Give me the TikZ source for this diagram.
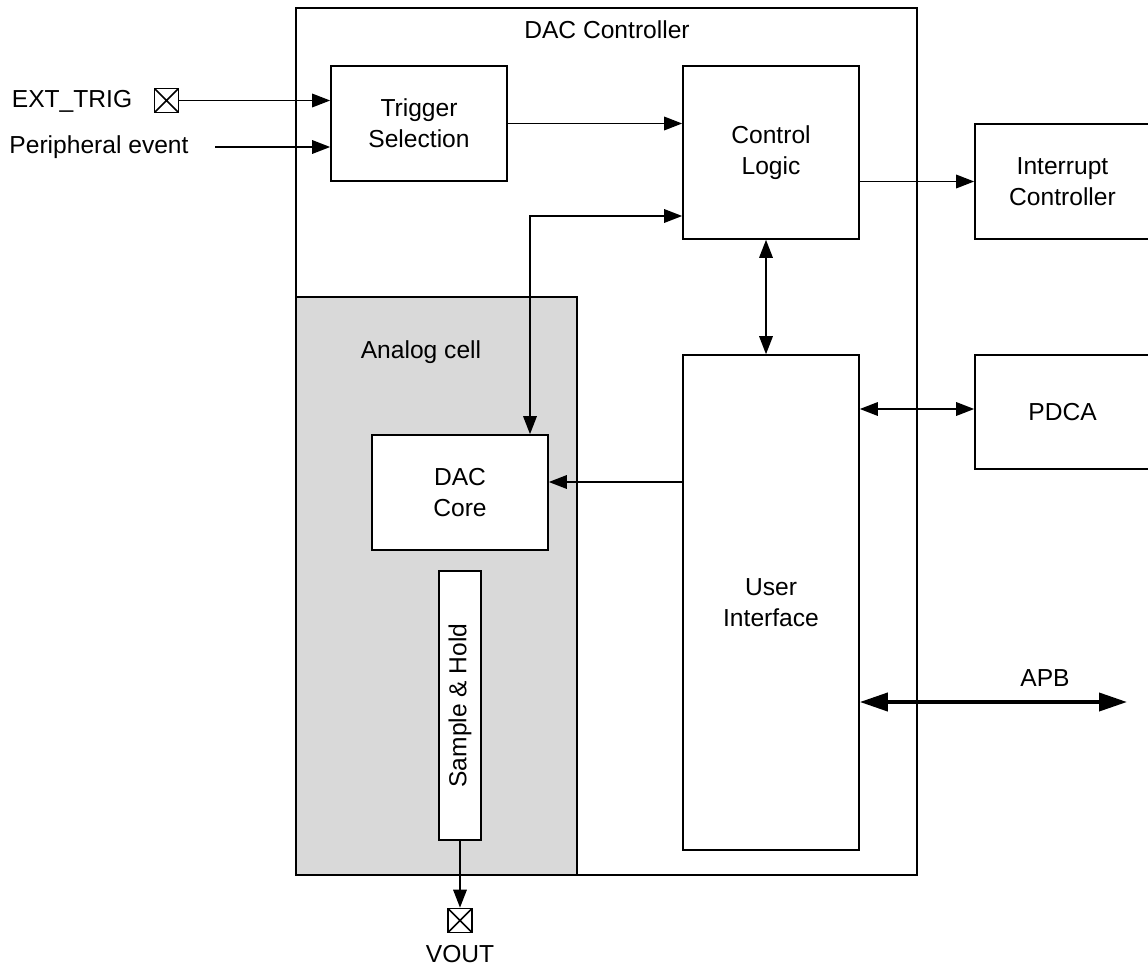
\documentclass[tikz,border=0pt]{standalone}
\usepackage{fontspec}
\setmainfont{Liberation Sans}
\usetikzlibrary{arrows.meta}
\begin{document}
\begin{tikzpicture}[x=0.02cm, y=-0.02cm,
    font=\fontsize{14}{17.6}\selectfont, line width=0.95pt,
    blk/.style={draw, align=center, inner sep=0pt},
    pin/.style={draw, minimum size=0.48cm, inner sep=0pt,
        path picture={\draw (path picture bounding box.north west) -- (path picture bounding box.south east)
            (path picture bounding box.north east) -- (path picture bounding box.south west);}},
    sig/.style={-{Triangle[length=0.36cm, width=0.27cm]}},
    bsig/.style={{Triangle[length=0.36cm, width=0.27cm]}-{Triangle[length=0.36cm, width=0.27cm]}},
    bus/.style={line width=2.2pt, {Triangle[length=0.56cm, width=0.36cm]}-{Triangle[length=0.56cm, width=0.36cm]}}]
    \useasboundingbox (0,0) rectangle (1148,966);

    % DAC controller
    \node[blk, minimum width=12.42cm, minimum height=17.34cm] (ctrl) at (606.5,441.5) {};
    \node (ctrllbl) at (607,30) {DAC Controller};

    % analog cell
    \node[blk, fill=black!15, minimum width=5.62cm, minimum height=11.56cm] (analog) at (436.5,586) {};
    \node (analoglbl) at (421,352) {Analog cell};

    % blocks
    \node[blk, minimum width=3.52cm, minimum height=2.3cm] (trig) at (419,123.5) {Trigger\\Selection};
    \node[blk, minimum width=3.52cm, minimum height=3.46cm] (logic) at (771,152.5) {Control\\Logic};
    \node[blk, minimum width=3.5cm, minimum height=2.3cm] (irq) at (1062.5,181.5) {Interrupt\\Controller};
    \node[blk, minimum width=3.5cm, minimum height=2.28cm] (pdca) at (1062.5,412) {PDCA};
    \node[blk, minimum width=3.52cm, minimum height=9.9cm] (ui) at (771,602.5) {User\\Interface};
    \node[blk, fill=white, minimum width=3.52cm, minimum height=2.3cm] (core) at (460,492.5) {DAC\\Core};
    \node[blk, fill=white, rotate=90, minimum width=5.38cm, minimum height=0.84cm] (sh) at (460,705.5) {Sample \& Hold};

    % pins
    \node (exttxt) at (72,101) {EXT\_TRIG};
    \node[pin] (extpin) at (166.5,100.5) {};
    \node (pevtxt) at (99,147) {Peripheral event};
    \coordinate (pevend) at (215,147);
    \node[pin] (outpin) at (460,920.5) {};
    \node (vouttxt) at (460,954) {VOUT};

    % connections
    \draw[sig] (extpin) -- (trig.west |- extpin);
    \draw[sig] (pevend) -- (trig.west |- pevend);
    \draw[sig] (trig) -- (logic.west |- trig);
    \draw[sig] (logic.east |- irq) -- (irq);
    \draw[bsig] ([xshift=-0.1cm]logic.south) -- ([xshift=-0.1cm]ui.north);
    \coordinate (bend) at (530,216);
    \draw[bsig] (logic.west |- bend) -| (core.north -| bend);
    \draw[bsig] (ui.east |- 0,409) -- (pdca.west |- 0,409);
    \draw[sig] (ui.west |- 0,482) -- (core.east |- 0,482);
    \draw[sig] (sh) -- (outpin);

    % APB bus
    \coordinate (apbend) at (1127,702);
    \draw[bus] (ui.east |- apbend) -- (apbend);
    \node (apblbl) at (1045,678) {APB};
\end{tikzpicture}
\end{document}
